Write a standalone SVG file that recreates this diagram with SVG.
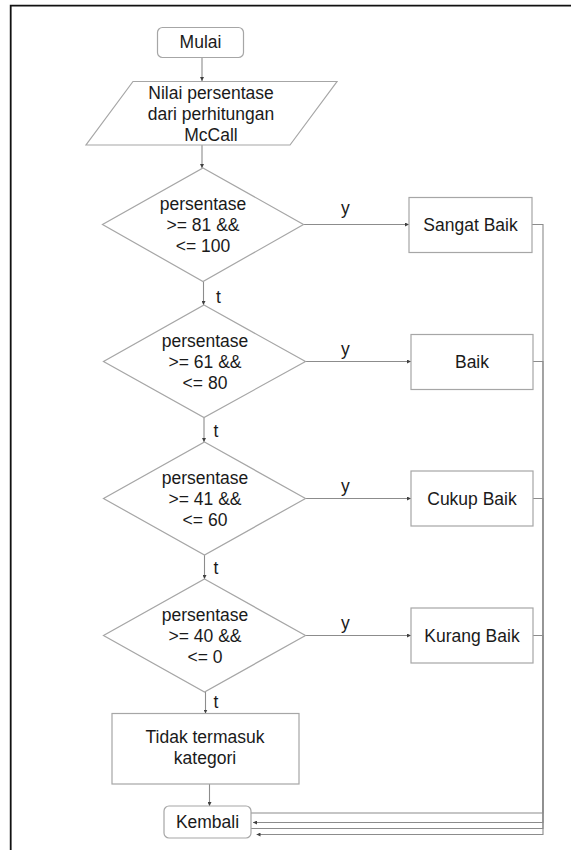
<svg xmlns="http://www.w3.org/2000/svg" width="571" height="850" viewBox="0 0 571 850">
<style>
.shape{fill:#fff;stroke:#a6a6a6;stroke-width:1.2}
.t{font-family:"Liberation Sans",Arial,sans-serif;font-size:17.5px;fill:#1a1a1a;text-anchor:middle}
.lbl{font-family:"Liberation Sans",Arial,sans-serif;font-size:17.5px;fill:#1a1a1a}
.c{fill:none;stroke:#8c8c8c;stroke-width:1.1}
</style>
<defs>
<marker id="ah" viewBox="0 0 4 4" refX="4" refY="2" markerWidth="4" markerHeight="4" markerUnits="userSpaceOnUse" orient="auto">
<path d="M0,0 L4,2 L0,4 Z" fill="#404040"/>
</marker>
</defs>
<rect x="0" y="0" width="571" height="850" fill="#fff"/>
<path d="M10.7,860 V5.6 H580" fill="none" stroke="#111" stroke-width="1.8"/>
<g id="connectors">
<line class="c" x1="202" y1="57" x2="202" y2="81" marker-end="url(#ah)"/>
<line class="c" x1="202" y1="145" x2="202" y2="168" marker-end="url(#ah)"/>
<line class="c" x1="303" y1="224.5" x2="409" y2="224.5" marker-end="url(#ah)"/>
<line class="c" x1="203.5" y1="281.5" x2="203.5" y2="305" marker-end="url(#ah)"/>
<line class="c" x1="305" y1="361.5" x2="411" y2="361.5" marker-end="url(#ah)"/>
<line class="c" x1="204" y1="417.5" x2="204" y2="442" marker-end="url(#ah)"/>
<line class="c" x1="305" y1="498.5" x2="411" y2="498.5" marker-end="url(#ah)"/>
<line class="c" x1="204.5" y1="555" x2="204.5" y2="579" marker-end="url(#ah)"/>
<line class="c" x1="305" y1="635.5" x2="411" y2="635.5" marker-end="url(#ah)"/>
<line class="c" x1="205.5" y1="692" x2="205.5" y2="713.5" marker-end="url(#ah)"/>
<line class="c" x1="209.5" y1="784" x2="209.5" y2="806" marker-end="url(#ah)"/>
<polyline class="c" points="532,224.5 543,224.5 543,813 251,813"/>
<polyline class="c" points="533,361.5 543,361.5 543,822.5 253,822.5" marker-end="url(#ah)"/>
<polyline class="c" points="533,498.5 543,498.5 543,828.5 251,828.5"/>
<polyline class="c" points="533,635.5 543,635.5 543,834.5 256.5,834.5" marker-end="url(#ah)"/>
<text class="lbl" x="341" y="214">y</text>
<text class="lbl" x="341" y="355">y</text>
<text class="lbl" x="341" y="492">y</text>
<text class="lbl" x="341" y="629">y</text>
<text class="lbl" x="216" y="303">t</text>
<text class="lbl" x="213.5" y="437">t</text>
<text class="lbl" x="213.5" y="574">t</text>
<text class="lbl" x="213.5" y="708">t</text>
</g>
<g id="mulai">
<rect class="shape" x="157.5" y="27.5" width="86" height="30" rx="5"/>
<text class="t" x="200.5" y="48">Mulai</text>
</g>
<g id="input">
<polygon class="shape" points="133,81.5 337,81.5 290,145 86,145"/>
<text class="t" x="211" y="99">Nilai persentase</text>
<text class="t" x="211" y="120">dari perhitungan</text>
<text class="t" x="211" y="141">McCall</text>
</g>
<g id="d1">
<polygon class="shape" points="203,168 303.5,224.5 203,281.5 102.5,224.5"/>
<text class="t" x="203" y="210">persentase</text>
<text class="t" x="203" y="231">&gt;= 81 &amp;&amp;</text>
<text class="t" x="203" y="252">&lt;= 100</text>
</g>
<g id="d2">
<polygon class="shape" points="204,305 305.5,361.5 204,417.5 103.5,361.5"/>
<text class="t" x="205" y="347">persentase</text>
<text class="t" x="205" y="368">&gt;= 61 &amp;&amp;</text>
<text class="t" x="205" y="389">&lt;= 80</text>
</g>
<g id="d3">
<polygon class="shape" points="204.5,442 305.5,498.5 204.5,555 103.5,498.5"/>
<text class="t" x="205" y="484">persentase</text>
<text class="t" x="205" y="505">&gt;= 41 &amp;&amp;</text>
<text class="t" x="205" y="526">&lt;= 60</text>
</g>
<g id="d4">
<polygon class="shape" points="204.5,579 305.5,635.5 204.5,692 103.5,635.5"/>
<text class="t" x="205" y="621">persentase</text>
<text class="t" x="205" y="642">&gt;= 40 &amp;&amp;</text>
<text class="t" x="205" y="663">&lt;= 0</text>
</g>
<g id="sangat-baik">
<rect class="shape" x="409" y="197.5" width="123" height="55"/>
<text class="t" x="470.5" y="231">Sangat Baik</text>
</g>
<g id="baik">
<rect class="shape" x="411" y="334.5" width="122" height="55"/>
<text class="t" x="472" y="368">Baik</text>
</g>
<g id="cukup-baik">
<rect class="shape" x="411" y="471" width="122" height="55"/>
<text class="t" x="472" y="505">Cukup Baik</text>
</g>
<g id="kurang-baik">
<rect class="shape" x="411" y="608" width="122" height="55"/>
<text class="t" x="472" y="642">Kurang Baik</text>
</g>
<g id="tidak">
<rect class="shape" x="112" y="713.5" width="187" height="70.5"/>
<text class="t" x="205" y="743">Tidak termasuk</text>
<text class="t" x="205" y="764">kategori</text>
</g>
<g id="kembali">
<rect class="shape" x="164" y="806" width="87" height="32" rx="5"/>
<text class="t" x="207.5" y="828">Kembali</text>
</g>
</svg>
